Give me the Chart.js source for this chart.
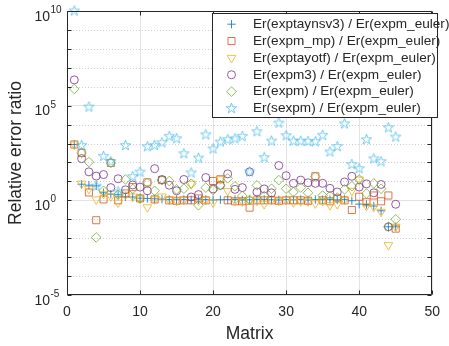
<!DOCTYPE html>
<html><head><meta charset="utf-8">
<script src="https://cdn.jsdelivr.net/npm/chart.js@4/dist/chart.umd.min.js"></script>
<style>html,body{margin:0;padding:0;background:#fff;overflow:hidden}canvas{display:block}</style>
</head><body>
<canvas id="c" width="449" height="346"></canvas>
<script>
// ---- data (x = matrix index, y = relative error ratio) ----
const matrixIndex = [1,2,3,4,5,6,7,8,9,10,11,12,13,14,15,16,17,18,19,20,21,22,23,24,25,26,27,28,29,30,31,32,33,34,35,36,37,38,39,40,41,42,43,44,45];

const exptaynsv3 = [8.9e2,7.1,6.3,5.8,2.5,2.1,2.0,1.55,1.5,1.3,
  1.26,1.2,1.15,1.1,1.08,1.1,1.05,1.08,1.1,1.05,
  1.08,1.1,1.1,1.05,1.08,1.1,1.1,1.08,1.05,1.1,
  1.08,1.1,1.05,1.1,1.08,1.1,1.05,1.12,0.95,0.63,
  0.6,0.5,0.28,4e-2,4e-2];
const expm_mp = [8.9e2,3.2e2,2.6,8.9e-2,1.12,95,1,2.3,5,1.26,
  8.9,1.12,11.7,1,0.95,1,1,1.26,1,10.5,
  13,1,0.89,0.89,0.41,1,1,1,0.95,1,
  1,1,0.95,18.6,1,0.89,1.26,1,0.31,1.55,
  0.79,1.8,0.89,1.8,3.2e-2];
const exptayotf = [8.9e2,7.6,4,1.12,2.2,1.6,0.76,2,1.6,1.26,
  0.43,1.12,1.6,1.05,0.95,1.05,7.6,0.95,1.05,0.76,
  13,3.1,0.95,0.89,1.05,0.95,0.63,1.05,0.95,1.05,
  0.79,0.89,0.89,0.69,0.95,0.55,0.63,1.05,3.2,12.6,
  0.5,0.45,0.25,4.3e-3,4.1e-2];
const expm3 = [2.3e6,1.6e2,32,19,23,4.7,13.8,3.6,6.5,5,
  3.2,47,12.6,6.3,3.2,12.6,1.5,2,16,4,
  6.2,25,3.8,4.7,32,2.75,4,2.5,69,20,
  7.9,11.7,8.5,7.9,7.9,4.3,2.75,9.3,18.6,5,
  7.4,2.5,6.9,4e-2,0.62];
const expm = [7.6e5,3.2e2,1.05e2,1.1e-2,3.2,95,2,12.6,4,1.26,
  8.5,3.2,11.7,10.5,3.8,4.1,7.6,0.55,4.7,3.5,
  6.3,14.5,5.6,1.7,1.05,6.2,1.7,4.1,11.7,4.1,
  2.75,4.7,2.5,17.8,1.8,1.7,1.4,3.8,5.6,12.6,
  2.3,7.9,4.1,4e-2,0.1];
const sexpm = [1e10,7.9e2,8.5e4,5.6,2.1e2,1.1e2,2.8,7.9e2,18,31,
  6.8e2,7.9e2,1.1e3,2.4e3,1.8e3,2.9e2,28,1.7e2,2.9e3,5.2e2,
  1.2e3,1.6e3,1.8e3,2.4e3,32,4.2e3,1.8e2,1.35e3,1.2e4,2.6e3,
  1.35e3,1.35e3,1.3e3,1.25e3,2.7e3,3.6e2,6.9e2,1.1e4,78,47,
  1.6e3,1.55e2,1.1e2,6.8e3,2.2e3];

const seriesLabels = ['Er(exptaynsv3) / Er(expm_euler)','Er(expm_mp) / Er(expm_euler)','Er(exptayotf) / Er(expm_euler)',
  'Er(expm3) / Er(expm_euler)','Er(expm) / Er(expm_euler)','Er(sexpm) / Er(expm_euler)'];
const xTickValues = [0,10,20,30,40,50];
const yTickExponents = ['-5','0','5','10'];
const xTitle = 'Matrix';
const yTitle = 'Relative error ratio';

// ---- styling ----
const FONT = '"Liberation Sans", Arial, Helvetica, sans-serif';
const TXT = '#262626';
const LW = 0.8;
function pentagram(color, R) {
  const s = 15, c = document.createElement('canvas'); c.width = s; c.height = s;
  const g = c.getContext('2d'), cx = s/2, cy = s/2, r = R*0.40;
  g.beginPath();
  for (let k = 0; k < 10; k++) {
    const ang = -Math.PI/2 + k*Math.PI/5, rr = k%2===0 ? R : r;
    const px = cx + rr*Math.cos(ang), py = cy + rr*Math.sin(ang);
    k===0 ? g.moveTo(px,py) : g.lineTo(px,py);
  }
  g.closePath(); g.strokeStyle = color; g.lineWidth = LW; g.stroke();
  return c;
}
const styles = [
  {color:'#0072BD', style:'cross', r:4.2, rot:0},
  {color:'#D95319', style:'rect', r:5, rot:0},
  {color:'#EDB120', style:'triangle', r:5, rot:180},
  {color:'#7E2F8E', style:'circle', r:4, rot:0},
  {color:'#77AC30', style:'rectRot', r:4.8, rot:0},
  {color:'#4DBEEE', style:null, r:6, rot:0}
];
styles[5].style = pentagram(styles[5].color, 5.4);
const seriesData = [exptaynsv3, expm_mp, exptayotf, expm3, expm, sexpm];

const datasets = seriesData.map((arr, i) => ({
  label: seriesLabels[i],
  data: matrixIndex.map((x, j) => ({x: x, y: arr[j]})),
  pointStyle: styles[i].style,
  pointRadius: styles[i].r,
  pointRotation: styles[i].rot,
  pointBorderWidth: LW,
  borderWidth: LW,
  borderColor: styles[i].color,
  pointBorderColor: styles[i].color,
  backgroundColor: 'rgba(0,0,0,0)',
  pointBackgroundColor: 'rgba(0,0,0,0)',
  showLine: false,
  clip: false,
  order: 5 - i
}));

function drawMarker(ctx, st, x, y) {
  ctx.save();
  ctx.strokeStyle = st.color; ctx.fillStyle = 'rgba(0,0,0,0)'; ctx.lineWidth = LW;
  if (Chart.helpers && Chart.helpers.drawPoint) {
    Chart.helpers.drawPoint(ctx, {pointStyle: st.style, rotation: st.rot, radius: st.r, borderWidth: LW}, x, y);
  } else if (typeof st.style === 'object') {
    ctx.drawImage(st.style, x - st.style.width/2, y - st.style.height/2);
  }
  ctx.restore();
}

const framePlugin = {
  id: 'frame',
  beforeDatasetsDraw(chart) {
    const {ctx, chartArea: a, scales: {y}} = chart;
    ctx.save();
    ctx.strokeStyle = '#cfcfcf'; ctx.lineWidth = 1; ctx.setLineDash([1, 2]);
    for (let e = -4; e <= 9; e++) {
      if (e % 5 === 0) continue;
      const py = Math.round(y.getPixelForValue(Math.pow(10, e))) + 0.5;
      ctx.beginPath(); ctx.moveTo(a.left, py); ctx.lineTo(a.right, py); ctx.stroke();
    }
    ctx.restore();
  },
  afterDatasetsDraw(chart) {
    const {ctx, chartArea: a, scales: {x, y}} = chart;
    const L = Math.floor(a.left) + 0.5, R = Math.round(a.right) - 0.5, T = Math.round(a.top) + 0.5, B = Math.round(a.bottom) - 0.5;
    ctx.save();
    ctx.strokeStyle = '#262626'; ctx.lineWidth = 1;
    ctx.beginPath(); ctx.rect(L, T, R - L, B - T); ctx.stroke();
    const tl = 4;
    ctx.beginPath();
    for (let e = -5; e <= 10; e++) {
      const py = Math.round(y.getPixelForValue(Math.pow(10, e))) + 0.5;
      ctx.moveTo(L, py); ctx.lineTo(L + tl, py);
      ctx.moveTo(R, py); ctx.lineTo(R - tl, py);
    }
    xTickValues.forEach(v => {
      const px = Math.round(x.getPixelForValue(v)) + 0.5;
      ctx.moveTo(px, B); ctx.lineTo(px, B - tl);
      ctx.moveTo(px, T); ctx.lineTo(px, T + tl);
    });
    ctx.stroke();
    ctx.restore();
  },
  afterDraw(chart) {
    const {ctx, scales: {y}} = chart;
    ctx.save();
    // y tick labels with superscript exponents
    ctx.fillStyle = TXT;
    yTickExponents.forEach(ex => {
      const py = y.getPixelForValue(Math.pow(10, Number(ex)));
      ctx.font = '14px ' + FONT; ctx.textAlign = 'right'; ctx.textBaseline = 'alphabetic';
      ctx.fillText('10', 50, py + 9.5);
      ctx.font = '10px ' + FONT; ctx.textAlign = 'left';
      ctx.fillText(ex, 50.5, py + 2);
    });
    // legend box
    const bx = 212.5, by = 13.5, bw = 225, bh = 104;
    ctx.fillStyle = '#ffffff'; ctx.fillRect(bx, by, bw, bh);
    ctx.strokeStyle = '#262626'; ctx.lineWidth = 1; ctx.strokeRect(bx, by, bw, bh);
    ctx.font = '13.6px ' + FONT; ctx.textAlign = 'left'; ctx.textBaseline = 'middle';
    chart.data.datasets.forEach((ds, i) => {
      const cy = 24.2 + i * 16.85;
      drawMarker(ctx, styles[i], 231.5, cy);
      ctx.fillStyle = TXT;
      ctx.fillText(ds.label, 253, cy);
    });
    ctx.restore();
  }
};

new Chart(document.getElementById('c'), {
  type: 'scatter',
  data: { datasets },
  options: {
    responsive: false,
    devicePixelRatio: 1,
    animation: false,
    events: [],
    layout: { padding: { top: 11, right: 9, left: 0, bottom: 0 } },
    plugins: { legend: { display: false }, tooltip: { enabled: false } },
    scales: {
      x: {
        type: 'linear', min: 0, max: 50,
        afterBuildTicks: s => { s.ticks = xTickValues.map(v => ({value: v})); },
        afterFit: s => { s.height = 51; },
        ticks: { font: { size: 14, family: FONT }, color: TXT, padding: 9, maxRotation: 0 },
        grid: { color: '#e3e3e3', lineWidth: 1, drawTicks: false },
        border: { display: false },
        title: { display: true, text: xTitle, color: TXT, font: { size: 17.5, family: FONT }, padding: { top: 0, bottom: 1 } }
      },
      y: {
        type: 'logarithmic', min: 1e-5, max: 1e10,
        afterBuildTicks: s => { s.ticks = yTickExponents.map(e => ({value: Math.pow(10, Number(e)), major: true})); },
        afterFit: s => { s.width = 67; },
        ticks: { display: false },
        grid: { color: '#e3e3e3', lineWidth: 1, drawTicks: false },
        border: { display: false },
        title: { display: true, text: yTitle, color: TXT, font: { size: 17.5, family: FONT }, padding: { top: 5.3, bottom: 0 } }
      }
    }
  },
  plugins: [framePlugin]
});
</script>
</body></html>
